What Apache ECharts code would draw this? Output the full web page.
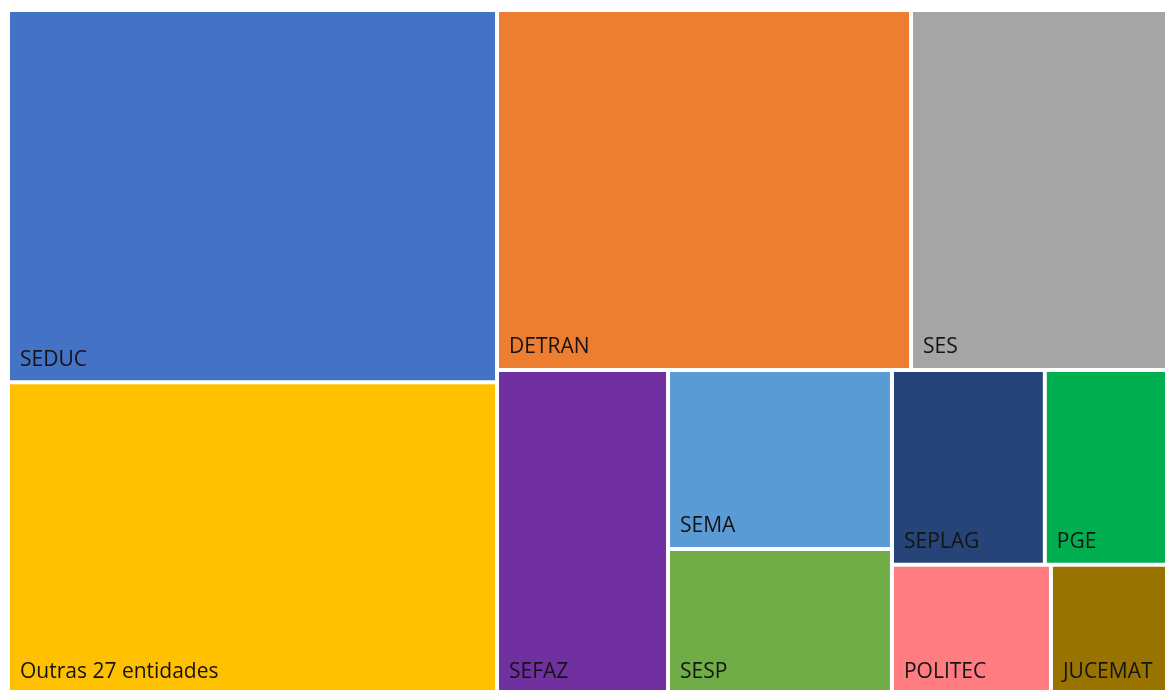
<!DOCTYPE html>
<html>
<head>
<meta charset="utf-8">
<script src="https://cdn.jsdelivr.net/npm/echarts@6/dist/echarts.min.js"></script>
<style>
  html, body { margin: 0; padding: 0; background: #fff; }
  #chart { width: 1165px; height: 690px; }
</style>
</head>
<body>
<div id="chart"></div>
<script>
// entity names and their (estimated) relative sizes, read from the tile areas
const entityNames = [
  'SEDUC', 'Outras 27 entidades', 'DETRAN', 'SES', 'SEFAZ', 'SEMA',
  'SESP', 'SEPLAG', 'PGE', 'POLITEC', 'JUCEMAT'
];
const entityValues = [182, 153, 149, 93.2, 55.6, 40.1, 32.7, 29.8, 24.4, 20.7, 15.5];

// office-like palette, one colour per entity
const tileColors = [
  '#4472C4', '#FFC000', '#ED7D31', '#A5A5A5', '#7030A0', '#5B9BD5',
  '#70AD47', '#264478', '#00B050', '#FF7C80', '#997300'
];

const chart = echarts.init(document.getElementById('chart'));

const treeData = entityNames.map((name, i) => ({
  name: name,
  value: entityValues[i],
  itemStyle: { color: tileColors[i] }
}));

chart.setOption({
  animation: false,
  series: [
    {
      type: 'treemap',
      left: 10,
      top: 12,
      width: 1158,
      height: 681,
      roam: false,
      nodeClick: false,
      squareRatio: 1,
      breadcrumb: { show: false },
      itemStyle: {
        gapWidth: 4,
        borderWidth: 0,
        borderColor: '#fff'
      },
      label: {
        show: true,
        position: 'insideBottomLeft',
        distance: 5,
        color: '#141414',
        fontFamily: 'Open Sans',
        fontSize: 21,
        formatter: '{b}'
      },
      data: treeData
    }
  ]
});
</script>
</body>
</html>
